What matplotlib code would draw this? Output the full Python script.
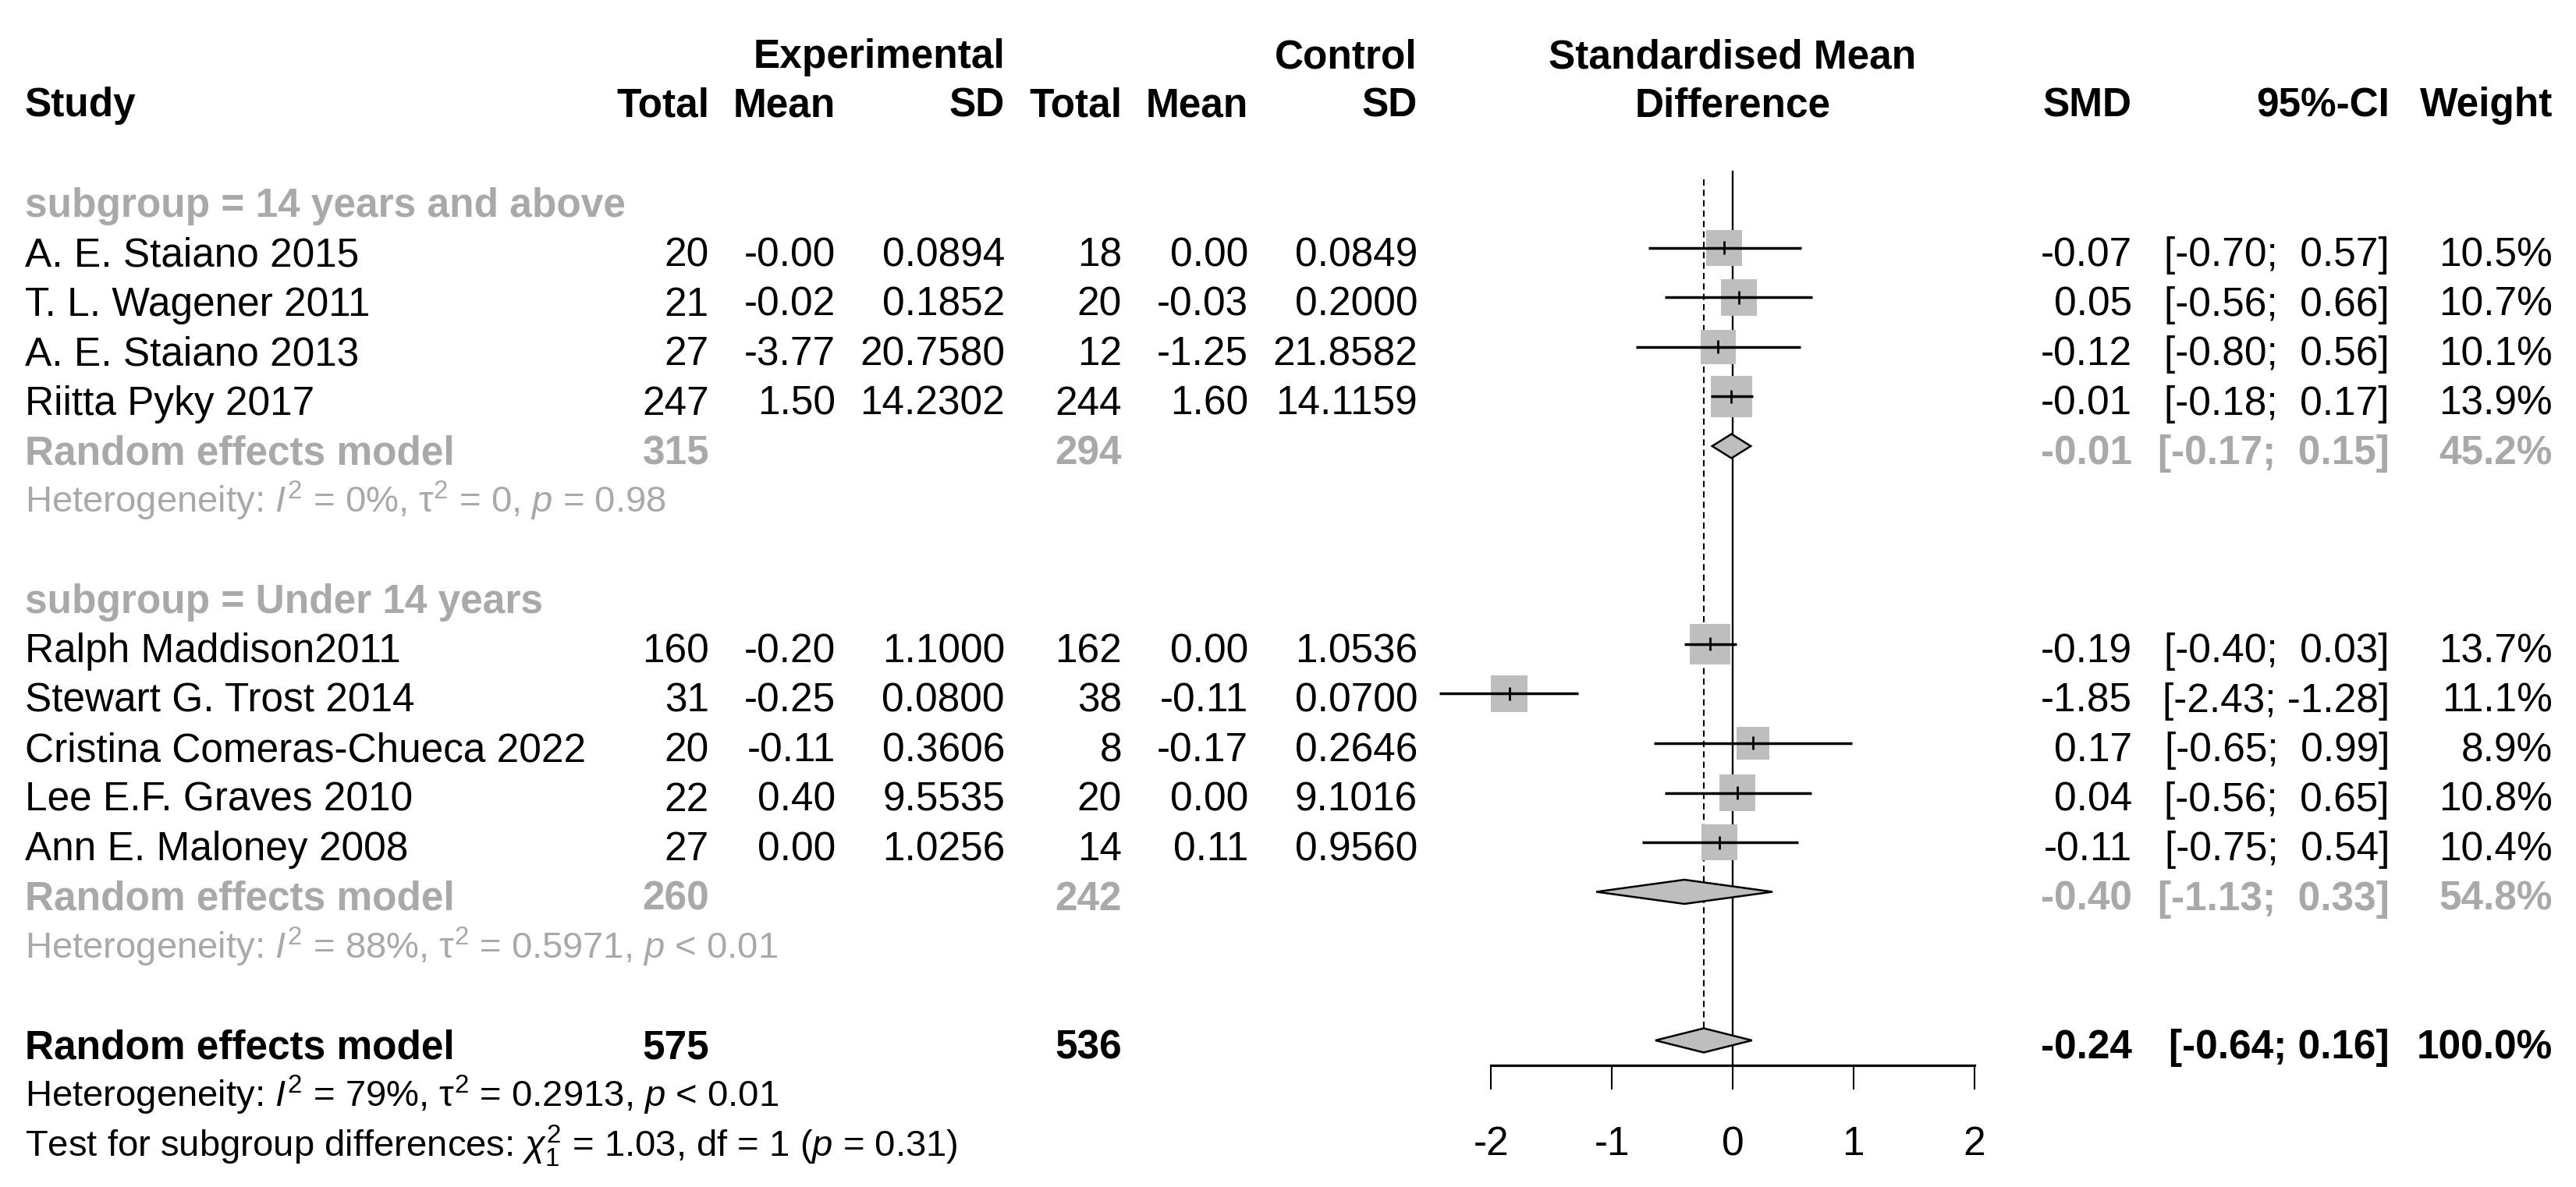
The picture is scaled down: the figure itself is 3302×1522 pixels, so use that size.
import numpy as np
import matplotlib
matplotlib.use("Agg")
import matplotlib.pyplot as plt
from matplotlib.patches import Rectangle, Polygon

# ---------------- data ----------------
subgroup_names = ["14 years and above", "Under 14 years"]
studies = ["A. E. Staiano 2015", "T. L. Wagener 2011", "A. E. Staiano 2013",
           "Riitta Pyky 2017", "Ralph Maddison2011", "Stewart G. Trost 2014",
           "Cristina Comeras-Chueca 2022", "Lee E.F. Graves 2010",
           "Ann E. Maloney 2008"]
study_group = [0, 0, 0, 0, 1, 1, 1, 1, 1]
e_total = [20, 21, 27, 247, 160, 31, 20, 22, 27]
e_mean = [-0.0, -0.02, -3.77, 1.50, -0.20, -0.25, -0.11, 0.40, 0.00]
e_sd = [0.0894, 0.1852, 20.7580, 14.2302, 1.1000, 0.0800, 0.3606, 9.5535, 1.0256]
c_total = [18, 20, 12, 244, 162, 38, 8, 20, 14]
c_mean = [0.00, -0.03, -1.25, 1.60, 0.00, -0.11, -0.17, 0.00, 0.11]
c_sd = [0.0849, 0.2000, 21.8582, 14.1159, 1.0536, 0.0700, 0.2646, 9.1016, 0.9560]
smd = [-0.07, 0.05, -0.12, -0.01, -0.19, -1.85, 0.17, 0.04, -0.11]
ci_lo = [-0.70, -0.56, -0.80, -0.18, -0.40, -2.43, -0.65, -0.56, -0.75]
ci_hi = [0.57, 0.66, 0.56, 0.17, 0.03, -1.28, 0.99, 0.65, 0.54]
weight = [10.5, 10.7, 10.1, 13.9, 13.7, 11.1, 8.9, 10.8, 10.4]

sub_e_total = [315, 260]
sub_c_total = [294, 242]
sub_smd = [-0.01, -0.40]
sub_lo = [-0.17, -1.13]
sub_hi = [0.15, 0.33]
sub_weight = [45.2, 54.8]
sub_i2 = [0, 88]
sub_tau2 = ["0", "0.5971"]
sub_p = ["= 0.98", "< 0.01"]

all_e_total = 575
all_c_total = 536
all_smd = -0.24
all_lo = -0.64
all_hi = 0.16
all_weight = 100.0
all_i2 = 79
all_tau2 = "0.2913"
all_p = "< 0.01"
test_chi2 = 1.03
test_df = 1
test_p = "= 0.31"

x_ticks = [-2, -1, 0, 1, 2]

# ---------------- style / layout ----------------
plt.rcParams['font.family'] = ['Liberation Sans', 'DejaVu Sans']
plt.rcParams['mathtext.fontset'] = 'custom'
plt.rcParams['mathtext.rm'] = 'Liberation Sans'
plt.rcParams['mathtext.it'] = 'Liberation Sans:italic'
plt.rcParams['mathtext.bf'] = 'Liberation Sans:bold'

W, H, DPI = 3302, 1522, 100
FS = 37          # main font size (pt)
FS_HET = 34      # heterogeneity font size
GRAY_TXT = '#A9A9A9'
GRAY_FILL = '#BEBEBE'

X0_PX = 2221.0     # pixel of SMD = 0
UNIT_PX = 154.75   # pixels per SMD unit
ROW1_PX = 318.0    # centre of first study row
STEP = 63.5        # row spacing (px)
AXIS_PX = 1366.0   # x axis line (px from top)

col_study = 32
col_et, col_em, col_esd = 909, 1071, 1288
col_ct, col_cm, col_csd = 1438, 1600, 1817
col_smd, col_ci, col_w = 2733, 3063, 3272


def row_px(r):
    return ROW1_PX + (r - 1) * STEP


def base(r, fs=FS):
    return row_px(r) + 0.716 * fs * DPI / 72 / 2 + 5


fig = plt.figure(figsize=(W / DPI, H / DPI), dpi=DPI)
fig.patch.set_facecolor('white')

# text layer (pixel coordinates)
ax_t = fig.add_axes([0, 0, 1, 1])
ax_t.set_xlim(0, W)
ax_t.set_ylim(H, 0)
ax_t.axis('off')

# forest panel
left_px = X0_PX + x_ticks[0] * UNIT_PX
right_px = X0_PX + x_ticks[-1] * UNIT_PX
ax_f = fig.add_axes([left_px / W, (H - AXIS_PX) / H,
                     (right_px - left_px) / W, AXIS_PX / H])
ax_f.set_xlim(x_ticks[0], x_ticks[-1])
y_top = 1 - ROW1_PX / STEP
y_bot = 1 + (AXIS_PX - ROW1_PX) / STEP
ax_f.set_ylim(y_bot, y_top)
ax_f.patch.set_visible(False)
for s in ['top', 'left', 'right']:
    ax_f.spines[s].set_visible(False)
ax_f.spines['bottom'].set_linewidth(2.3)
ax_f.spines['bottom'].set_bounds(x_ticks[0], x_ticks[-1])
ax_f.set_yticks([])
ax_f.set_xticks(x_ticks)
ax_f.set_xticklabels([str(t) for t in x_ticks])
ax_f.tick_params(axis='x', direction='out', length=22.5, width=1.5,
                 labelsize=FS, pad=33)


def txt(x, r, s, ha='right', bold=False, color='black', fs=FS):
    ax_t.text(x, base(r, fs), s, ha=ha, va='baseline', fontsize=fs,
              fontweight='bold' if bold else 'normal', color=color)


# headers
hdr1 = 87.3
hdr2 = 149.3
for x, s, ha in [(col_esd, "Experimental", 'right'), (col_csd, "Control", 'right'),
                 (X0_PX, "Standardised Mean", 'center')]:
    ax_t.text(x, hdr1, s, ha=ha, va='baseline', fontsize=FS, fontweight='bold')
for x, s, ha in [(col_study, "Study", 'left'), (col_et, "Total", 'right'),
                 (col_em, "Mean", 'right'), (col_esd, "SD", 'right'),
                 (col_ct, "Total", 'right'), (col_cm, "Mean", 'right'),
                 (col_csd, "SD", 'right'), (X0_PX, "Difference", 'center'),
                 (col_smd, "SMD", 'right'), (col_ci, "95%-CI", 'right'),
                 (col_w, "Weight", 'right')]:
    ax_t.text(x, hdr2, s, ha=ha, va='baseline', fontsize=FS, fontweight='bold')

# CI strings (padded like R's formatting)
lo_strs = [f"{v:.2f}" for v in ci_lo + sub_lo]
hi_strs = [f"{v:.2f}" for v in ci_hi + sub_hi]
wlo = max(len(s) for s in lo_strs)
whi = max(len(s) for s in hi_strs)


def ci_str(lo, hi, wl, wh):
    return "[" + f"{lo:.2f}".rjust(wl) + "; " + f"{hi:.2f}".rjust(wh) + "]"


def het_str(i2, tau2, p):
    return (r"Heterogeneity: $\mathit{I}^{2}$ = " + f"{i2}%, " +
            r"$\mathrm{\tau}^{2}$ = " + f"{tau2}, " + r"$\mathit{p}$ " + p)


# reference lines
top_solid = 0 - 0.54
top_dash = 0 - 0.39
SQ_K = 14.1  # square side (px) per sqrt(weight)
half_d = 15.5 / STEP

r = 0
for g, gname in enumerate(subgroup_names):
    txt(col_study, r, f"subgroup = {gname}", ha='left', bold=True, color=GRAY_TXT)
    r += 1
    for i in range(len(studies)):
        if study_group[i] != g:
            continue
        txt(col_study, r, studies[i], ha='left')
        txt(col_et, r, f"{e_total[i]}")
        txt(col_em, r, f"{e_mean[i]:.2f}")
        txt(col_esd, r, f"{e_sd[i]:.4f}")
        txt(col_ct, r, f"{c_total[i]}")
        txt(col_cm, r, f"{c_mean[i]:.2f}")
        txt(col_csd, r, f"{c_sd[i]:.4f}")
        txt(col_smd, r, f"{smd[i]:.2f}")
        txt(col_ci, r, ci_str(ci_lo[i], ci_hi[i], wlo, whi))
        txt(col_w, r, f"{weight[i]:.1f}%")
        side = SQ_K * np.sqrt(weight[i])
        ax_f.add_patch(Rectangle((smd[i] - side / 2 / UNIT_PX, r - side / 2 / STEP),
                                 side / UNIT_PX, side / STEP, facecolor=GRAY_FILL,
                                 edgecolor='none', zorder=2, clip_on=False))
        ax_f.plot([ci_lo[i], ci_hi[i]], [r, r], color='black', lw=2.5,
                  solid_capstyle='butt', zorder=3, clip_on=False)
        ax_f.plot([smd[i], smd[i]], [r - 8.5 / STEP, r + 8.5 / STEP], color='black',
                  lw=2.0, solid_capstyle='butt', zorder=3, clip_on=False)
        r += 1
    # subgroup summary
    txt(col_study, r, "Random effects model", ha='left', bold=True, color=GRAY_TXT)
    txt(col_et, r, f"{sub_e_total[g]}", bold=True, color=GRAY_TXT)
    txt(col_ct, r, f"{sub_c_total[g]}", bold=True, color=GRAY_TXT)
    txt(col_smd, r, f"{sub_smd[g]:.2f}", bold=True, color=GRAY_TXT)
    txt(col_ci, r, ci_str(sub_lo[g], sub_hi[g], wlo, whi), bold=True, color=GRAY_TXT)
    txt(col_w, r, f"{sub_weight[g]:.1f}%", bold=True, color=GRAY_TXT)
    ax_f.add_patch(Polygon([(sub_lo[g], r), (sub_smd[g], r - half_d), (sub_hi[g], r),
                            (sub_smd[g], r + half_d)], closed=True,
                           facecolor=GRAY_FILL, edgecolor='black', lw=1.8,
                           zorder=4, clip_on=False))
    r += 1
    txt(col_study, r, het_str(sub_i2[g], sub_tau2[g], sub_p[g]), ha='left',
        color=GRAY_TXT, fs=FS_HET)
    r += 2

# overall
txt(col_study, r, "Random effects model", ha='left', bold=True)
txt(col_et, r, f"{all_e_total}", bold=True)
txt(col_ct, r, f"{all_c_total}", bold=True)
txt(col_smd, r, f"{all_smd:.2f}", bold=True)
txt(col_ci, r, ci_str(all_lo, all_hi, len(f"{all_lo:.2f}"), len(f"{all_hi:.2f}")), bold=True)
txt(col_w, r, f"{all_weight:.1f}%", bold=True)
ax_f.add_patch(Polygon([(all_lo, r), (all_smd, r - half_d), (all_hi, r),
                        (all_smd, r + half_d)], closed=True,
                       facecolor=GRAY_FILL, edgecolor='black', lw=1.8,
                       zorder=4, clip_on=False))
overall_row = r
r += 1
txt(col_study, r, het_str(all_i2, all_tau2, all_p), ha='left', fs=FS_HET)
r += 1
txt(col_study, r, r"Test for subgroup differences: $\chi^{2}_{" + f"{test_df}" + r"}$ = "
    + f"{test_chi2:.2f}, df = {test_df} (" + r"$\mathit{p}$ " + test_p + ")",
    ha='left', fs=FS_HET)

# reference lines
ax_f.plot([0, 0], [top_solid, y_bot], color='black', lw=1.7, zorder=1, clip_on=False)
ax_f.plot([all_smd, all_smd], [top_dash, overall_row - half_d], color='black', lw=1.5,
          linestyle=(0, (3.8, 2.6)), zorder=1, clip_on=False)

fig.savefig('out.png', dpi=DPI, facecolor='white')
